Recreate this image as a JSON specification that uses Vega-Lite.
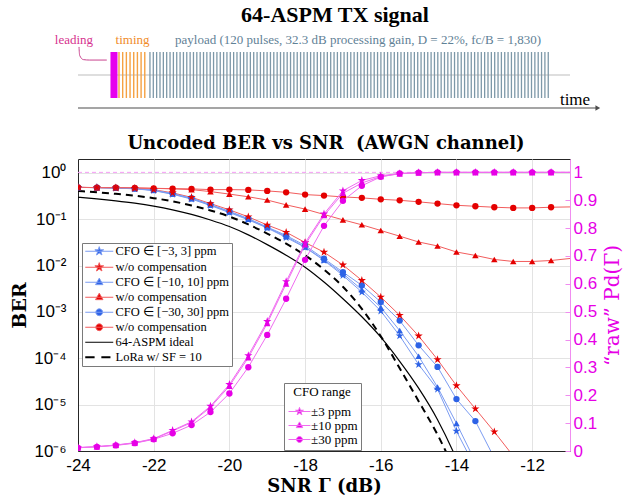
{
  "$schema": "https://vega.github.io/schema/vega-lite/v6.json",
  "autosize": {"type": "none"},
  "padding": {"left": 78, "top": 30, "right": 557, "bottom": 468},
  "background": "white",
  "bounds": "flush",
  "spacing": 47,
  "config": {
    "font": "Liberation Sans",
    "view": {"stroke": null},
    "axis": {"labelFont": "Liberation Sans", "labelFontSize": 17, "labelColor": "#000000", "titleFont": "DejaVu Serif", "titleFontSize": 19, "titleFontWeight": "bold", "titleColor": "#000000", "domainColor": "#262626", "gridColor": "#e3e3e3", "ticks": false, "labelOverlap": false, "labelFlush": false},
    "title": {"font": "DejaVu Serif", "fontWeight": "bold", "color": "#000000", "anchor": "middle"},
    "legend": {"labelFont": "Liberation Serif", "labelColor": "#000000", "strokeColor": "#7a7a7a", "fillColor": "#ffffff", "cornerRadius": 0, "titleFont": "Liberation Serif", "titleFontWeight": "normal", "titleColor": "#000000"}
  },
  "datasets": {
    "timing": [{"t": 12.25}, {"t": 13.35}, {"t": 14.45}, {"t": 15.55}, {"t": 16.65}, {"t": 17.75}, {"t": 18.85}, {"t": 19.95}],
    "payload": [
      {"t": 21.5}, {"t": 22.5}, {"t": 23.5}, {"t": 24.5}, {"t": 25.5}, {"t": 26.5}, {"t": 27.5}, {"t": 28.5}, {"t": 29.5}, {"t": 30.5},
      {"t": 31.5}, {"t": 32.5}, {"t": 33.5}, {"t": 34.5}, {"t": 35.5}, {"t": 36.5}, {"t": 37.5}, {"t": 38.5}, {"t": 39.5}, {"t": 40.5},
      {"t": 41.5}, {"t": 42.5}, {"t": 43.5}, {"t": 44.5}, {"t": 45.5}, {"t": 46.5}, {"t": 47.5}, {"t": 48.5}, {"t": 49.5}, {"t": 50.5},
      {"t": 51.5}, {"t": 52.5}, {"t": 53.5}, {"t": 54.5}, {"t": 55.5}, {"t": 56.5}, {"t": 57.5}, {"t": 58.5}, {"t": 59.5}, {"t": 60.5},
      {"t": 61.5}, {"t": 62.5}, {"t": 63.5}, {"t": 64.5}, {"t": 65.5}, {"t": 66.5}, {"t": 67.5}, {"t": 68.5}, {"t": 69.5}, {"t": 70.5},
      {"t": 71.5}, {"t": 72.5}, {"t": 73.5}, {"t": 74.5}, {"t": 75.5}, {"t": 76.5}, {"t": 77.5}, {"t": 78.5}, {"t": 79.5}, {"t": 80.5},
      {"t": 81.5}, {"t": 82.5}, {"t": 83.5}, {"t": 84.5}, {"t": 85.5}, {"t": 86.5}, {"t": 87.5}, {"t": 88.5}, {"t": 89.5}, {"t": 90.5},
      {"t": 91.5}, {"t": 92.5}, {"t": 93.5}, {"t": 94.5}, {"t": 95.5}, {"t": 96.5}, {"t": 97.5}, {"t": 98.5}, {"t": 99.5}, {"t": 100.5},
      {"t": 101.5}, {"t": 102.5}, {"t": 103.5}, {"t": 104.5}, {"t": 105.5}, {"t": 106.5}, {"t": 107.5}, {"t": 108.5}, {"t": 109.5}, {"t": 110.5},
      {"t": 111.5}, {"t": 112.5}, {"t": 113.5}, {"t": 114.5}, {"t": 115.5}, {"t": 116.5}, {"t": 117.5}, {"t": 118.5}, {"t": 119.5}, {"t": 120.5},
      {"t": 121.5}, {"t": 122.5}, {"t": 123.5}, {"t": 124.5}, {"t": 125.5}, {"t": 126.5}, {"t": 127.5}, {"t": 128.5}, {"t": 129.5}, {"t": 130.5},
      {"t": 131.5}, {"t": 132.5}, {"t": 133.5}, {"t": 134.5}, {"t": 135.5}, {"t": 136.5}, {"t": 137.5}, {"t": 138.5}, {"t": 139.5}, {"t": 140.5}
    ],
    "ber": [
      {"series": "s3c", "snr": -24, "ber": 0.487}, {"series": "s3c", "snr": -23.5, "ber": 0.483}, {"series": "s3c", "snr": -23, "ber": 0.471}, {"series": "s3c", "snr": -22.5, "ber": 0.455},
      {"series": "s3c", "snr": -22, "ber": 0.416}, {"series": "s3c", "snr": -21.5, "ber": 0.346}, {"series": "s3c", "snr": -21, "ber": 0.273}, {"series": "s3c", "snr": -20.5, "ber": 0.198},
      {"series": "s3c", "snr": -20, "ber": 0.1397}, {"series": "s3c", "snr": -19.5, "ber": 0.0973}, {"series": "s3c", "snr": -19, "ber": 0.0648}, {"series": "s3c", "snr": -18.5, "ber": 0.0405},
      {"series": "s3c", "snr": -18, "ber": 0.0247}, {"series": "s3c", "snr": -17.5, "ber": 0.01294}, {"series": "s3c", "snr": -17, "ber": 0.00615}, {"series": "s3c", "snr": -16.5, "ber": 0.00269},
      {"series": "s3c", "snr": -16, "ber": 0.00105}, {"series": "s3c", "snr": -15.5, "ber": 0.000307}, {"series": "s3c", "snr": -15, "ber": 0.0000736}, {"series": "s3c", "snr": -14.5, "ber": 0.0000216},
      {"series": "s3c", "snr": -14, "ber": 0.00000269}, {"series": "s3c", "snr": -13.5, "ber": 0.000000435},

      {"series": "s3u", "snr": -24, "ber": 0.487}, {"series": "s3u", "snr": -23.5, "ber": 0.483}, {"series": "s3u", "snr": -23, "ber": 0.475}, {"series": "s3u", "snr": -22.5, "ber": 0.464},
      {"series": "s3u", "snr": -22, "ber": 0.437}, {"series": "s3u", "snr": -21.5, "ber": 0.371}, {"series": "s3u", "snr": -21, "ber": 0.298}, {"series": "s3u", "snr": -20.5, "ber": 0.218},
      {"series": "s3u", "snr": -20, "ber": 0.160}, {"series": "s3u", "snr": -19.5, "ber": 0.113}, {"series": "s3u", "snr": -19, "ber": 0.0752}, {"series": "s3u", "snr": -18.5, "ber": 0.0526},
      {"series": "s3u", "snr": -18, "ber": 0.0316}, {"series": "s3u", "snr": -17.5, "ber": 0.0195}, {"series": "s3u", "snr": -17, "ber": 0.01035}, {"series": "s3u", "snr": -16.5, "ber": 0.0048},
      {"series": "s3u", "snr": -16, "ber": 0.0021}, {"series": "s3u", "snr": -15.5, "ber": 0.000847}, {"series": "s3u", "snr": -15, "ber": 0.000304}, {"series": "s3u", "snr": -14.5, "ber": 0.0000942},
      {"series": "s3u", "snr": -14, "ber": 0.0000257}, {"series": "s3u", "snr": -13.5, "ber": 0.00000814}, {"series": "s3u", "snr": -13, "ber": 0.0000026}, {"series": "s3u", "snr": -12.5, "ber": 0.00000078},

      {"series": "t10c", "snr": -24, "ber": 0.487}, {"series": "t10c", "snr": -23.5, "ber": 0.483}, {"series": "t10c", "snr": -23, "ber": 0.475}, {"series": "t10c", "snr": -22.5, "ber": 0.459},
      {"series": "t10c", "snr": -22, "ber": 0.422}, {"series": "t10c", "snr": -21.5, "ber": 0.353}, {"series": "t10c", "snr": -21, "ber": 0.280}, {"series": "t10c", "snr": -20.5, "ber": 0.203},
      {"series": "t10c", "snr": -20, "ber": 0.1447}, {"series": "t10c", "snr": -19.5, "ber": 0.1002}, {"series": "t10c", "snr": -19, "ber": 0.0664}, {"series": "t10c", "snr": -18.5, "ber": 0.0425},
      {"series": "t10c", "snr": -18, "ber": 0.0253}, {"series": "t10c", "snr": -17.5, "ber": 0.01327}, {"series": "t10c", "snr": -17, "ber": 0.0067}, {"series": "t10c", "snr": -16.5, "ber": 0.00303},
      {"series": "t10c", "snr": -16, "ber": 0.00126}, {"series": "t10c", "snr": -15.5, "ber": 0.000397}, {"series": "t10c", "snr": -15, "ber": 0.000111}, {"series": "t10c", "snr": -14.5, "ber": 0.0000239},
      {"series": "t10c", "snr": -14, "ber": 0.00000395}, {"series": "t10c", "snr": -13.5, "ber": 0.000000585},

      {"series": "t10u", "snr": -24, "ber": 0.490}, {"series": "t10u", "snr": -23.5, "ber": 0.483}, {"series": "t10u", "snr": -23, "ber": 0.483}, {"series": "t10u", "snr": -22.5, "ber": 0.475},
      {"series": "t10u", "snr": -22, "ber": 0.466}, {"series": "t10u", "snr": -21.5, "ber": 0.453}, {"series": "t10u", "snr": -21, "ber": 0.437}, {"series": "t10u", "snr": -20.5, "ber": 0.396},
      {"series": "t10u", "snr": -20, "ber": 0.350}, {"series": "t10u", "snr": -19.5, "ber": 0.306}, {"series": "t10u", "snr": -19, "ber": 0.260}, {"series": "t10u", "snr": -18.5, "ber": 0.205},
      {"series": "t10u", "snr": -18, "ber": 0.166}, {"series": "t10u", "snr": -17.5, "ber": 0.127}, {"series": "t10u", "snr": -17, "ber": 0.0973}, {"series": "t10u", "snr": -16.5, "ber": 0.0760},
      {"series": "t10u", "snr": -16, "ber": 0.0573}, {"series": "t10u", "snr": -15.5, "ber": 0.0432}, {"series": "t10u", "snr": -15, "ber": 0.0324}, {"series": "t10u", "snr": -14.5, "ber": 0.0266},
      {"series": "t10u", "snr": -14, "ber": 0.0197}, {"series": "t10u", "snr": -13.5, "ber": 0.0166}, {"series": "t10u", "snr": -13, "ber": 0.0136}, {"series": "t10u", "snr": -12.5, "ber": 0.0123},
      {"series": "t10u", "snr": -12, "ber": 0.0123}, {"series": "t10u", "snr": -11.5, "ber": 0.0129}, {"series": "t10u", "snr": -10.5, "ber": 0.0158},

      {"series": "c30c", "snr": -24, "ber": 0.487}, {"series": "c30c", "snr": -23.5, "ber": 0.483}, {"series": "c30c", "snr": -23, "ber": 0.475}, {"series": "c30c", "snr": -22.5, "ber": 0.459},
      {"series": "c30c", "snr": -22, "ber": 0.426}, {"series": "c30c", "snr": -21.5, "ber": 0.358}, {"series": "c30c", "snr": -21, "ber": 0.287}, {"series": "c30c", "snr": -20.5, "ber": 0.208},
      {"series": "c30c", "snr": -20, "ber": 0.149}, {"series": "c30c", "snr": -19.5, "ber": 0.1038}, {"series": "c30c", "snr": -19, "ber": 0.0681}, {"series": "c30c", "snr": -18.5, "ber": 0.0447},
      {"series": "c30c", "snr": -18, "ber": 0.0272}, {"series": "c30c", "snr": -17.5, "ber": 0.0141}, {"series": "c30c", "snr": -17, "ber": 0.00725}, {"series": "c30c", "snr": -16.5, "ber": 0.00375},
      {"series": "c30c", "snr": -16, "ber": 0.00164}, {"series": "c30c", "snr": -15.5, "ber": 0.000651}, {"series": "c30c", "snr": -15, "ber": 0.000191}, {"series": "c30c", "snr": -14.5, "ber": 0.0000653},
      {"series": "c30c", "snr": -14, "ber": 0.0000132}, {"series": "c30c", "snr": -13.5, "ber": 0.00000442}, {"series": "c30c", "snr": -13, "ber": 0.000000707},

      {"series": "c30u", "snr": -24, "ber": 0.490}, {"series": "c30u", "snr": -23.5, "ber": 0.483}, {"series": "c30u", "snr": -23, "ber": 0.483}, {"series": "c30u", "snr": -22.5, "ber": 0.475},
      {"series": "c30u", "snr": -22, "ber": 0.466}, {"series": "c30u", "snr": -21.5, "ber": 0.459}, {"series": "c30u", "snr": -21, "ber": 0.453}, {"series": "c30u", "snr": -20.5, "ber": 0.437},
      {"series": "c30u", "snr": -20, "ber": 0.437}, {"series": "c30u", "snr": -19.5, "ber": 0.431}, {"series": "c30u", "snr": -19, "ber": 0.410}, {"series": "c30u", "snr": -18.5, "ber": 0.382},
      {"series": "c30u", "snr": -18, "ber": 0.341}, {"series": "c30u", "snr": -17.5, "ber": 0.325}, {"series": "c30u", "snr": -17, "ber": 0.304}, {"series": "c30u", "snr": -16.5, "ber": 0.290},
      {"series": "c30u", "snr": -16, "ber": 0.270}, {"series": "c30u", "snr": -15.5, "ber": 0.257}, {"series": "c30u", "snr": -15, "ber": 0.238}, {"series": "c30u", "snr": -14.5, "ber": 0.218},
      {"series": "c30u", "snr": -14, "ber": 0.2005}, {"series": "c30u", "snr": -13.5, "ber": 0.191}, {"series": "c30u", "snr": -13, "ber": 0.182}, {"series": "c30u", "snr": -12.5, "ber": 0.176},
      {"series": "c30u", "snr": -12, "ber": 0.176}, {"series": "c30u", "snr": -11.5, "ber": 0.182}, {"series": "c30u", "snr": -10.5, "ber": 0.188}
    ],
    "ideal": [
      {"snr": -24, "ber": 0.2985}, {"snr": -23.5, "ber": 0.2754}, {"snr": -23, "ber": 0.25}, {"snr": -22.5, "ber": 0.2228}, {"snr": -22, "ber": 0.1928},
      {"snr": -21.5, "ber": 0.1603}, {"snr": -21, "ber": 0.1274}, {"snr": -20.5, "ber": 0.0966}, {"snr": -20, "ber": 0.0698}, {"snr": -19.5, "ber": 0.0461},
      {"snr": -19, "ber": 0.0284}, {"snr": -18.5, "ber": 0.01675}, {"snr": -18, "ber": 0.00925}, {"snr": -17.5, "ber": 0.00443}, {"snr": -17, "ber": 0.00193},
      {"snr": -16.5, "ber": 0.000787}, {"snr": -16, "ber": 0.000286}, {"snr": -15.5, "ber": 0.0000863}, {"snr": -15, "ber": 0.0000227}, {"snr": -14.5, "ber": 0.00000474},
      {"snr": -14, "ber": 0.00000067}, {"snr": -13.5, "ber": 0.000000063}
    ],
    "lora": [
      {"snr": -24, "ber": 0.410}, {"snr": -23.5, "ber": 0.382}, {"snr": -23, "ber": 0.354}, {"snr": -22.5, "ber": 0.323}, {"snr": -22, "ber": 0.286},
      {"snr": -21.5, "ber": 0.244}, {"snr": -21, "ber": 0.199}, {"snr": -20.5, "ber": 0.155}, {"snr": -20, "ber": 0.1146}, {"snr": -19.5, "ber": 0.0776},
      {"snr": -19, "ber": 0.0491}, {"snr": -18.5, "ber": 0.0297}, {"snr": -18, "ber": 0.01675}, {"snr": -17.5, "ber": 0.00822}, {"snr": -17, "ber": 0.0035},
      {"snr": -16.5, "ber": 0.00117}, {"snr": -16, "ber": 0.0003}, {"snr": -15.5, "ber": 0.000061}, {"snr": -15, "ber": 0.0000119}, {"snr": -14.5, "ber": 0.00000225},
      {"snr": -14, "ber": 0.000000318}
    ],
    "pd": [
      {"cfo": "p3", "snr": -24, "pd": 0.0122}, {"cfo": "p3", "snr": -23.5, "pd": 0.0157}, {"cfo": "p3", "snr": -23, "pd": 0.0215}, {"cfo": "p3", "snr": -22.5, "pd": 0.030},
      {"cfo": "p3", "snr": -22, "pd": 0.0444}, {"cfo": "p3", "snr": -21.5, "pd": 0.0741}, {"cfo": "p3", "snr": -21, "pd": 0.105}, {"cfo": "p3", "snr": -20.5, "pd": 0.161},
      {"cfo": "p3", "snr": -20, "pd": 0.239}, {"cfo": "p3", "snr": -19.5, "pd": 0.3425}, {"cfo": "p3", "snr": -19, "pd": 0.465}, {"cfo": "p3", "snr": -18.5, "pd": 0.608},
      {"cfo": "p3", "snr": -18, "pd": 0.747}, {"cfo": "p3", "snr": -17.5, "pd": 0.851}, {"cfo": "p3", "snr": -17, "pd": 0.934}, {"cfo": "p3", "snr": -16.5, "pd": 0.971},
      {"cfo": "p3", "snr": -16, "pd": 0.988}, {"cfo": "p3", "snr": -15.5, "pd": 0.996}, {"cfo": "p3", "snr": -15, "pd": 0.999}, {"cfo": "p3", "snr": -14.5, "pd": 1},
      {"cfo": "p3", "snr": -14, "pd": 1}, {"cfo": "p3", "snr": -13.5, "pd": 1}, {"cfo": "p3", "snr": -13, "pd": 1}, {"cfo": "p3", "snr": -12.5, "pd": 1},
      {"cfo": "p3", "snr": -12, "pd": 1}, {"cfo": "p3", "snr": -11.5, "pd": 1}, {"cfo": "p3", "snr": -10.5, "pd": 1},

      {"cfo": "p10", "snr": -24, "pd": 0.0122}, {"cfo": "p10", "snr": -23.5, "pd": 0.0155}, {"cfo": "p10", "snr": -23, "pd": 0.021}, {"cfo": "p10", "snr": -22.5, "pd": 0.029},
      {"cfo": "p10", "snr": -22, "pd": 0.043}, {"cfo": "p10", "snr": -21.5, "pd": 0.072}, {"cfo": "p10", "snr": -21, "pd": 0.102}, {"cfo": "p10", "snr": -20.5, "pd": 0.157},
      {"cfo": "p10", "snr": -20, "pd": 0.233}, {"cfo": "p10", "snr": -19.5, "pd": 0.335}, {"cfo": "p10", "snr": -19, "pd": 0.458}, {"cfo": "p10", "snr": -18.5, "pd": 0.600},
      {"cfo": "p10", "snr": -18, "pd": 0.740}, {"cfo": "p10", "snr": -17.5, "pd": 0.845}, {"cfo": "p10", "snr": -17, "pd": 0.925}, {"cfo": "p10", "snr": -16.5, "pd": 0.962},
      {"cfo": "p10", "snr": -16, "pd": 0.985}, {"cfo": "p10", "snr": -15.5, "pd": 0.995}, {"cfo": "p10", "snr": -15, "pd": 0.999}, {"cfo": "p10", "snr": -14.5, "pd": 1},
      {"cfo": "p10", "snr": -14, "pd": 1}, {"cfo": "p10", "snr": -13.5, "pd": 1}, {"cfo": "p10", "snr": -13, "pd": 1}, {"cfo": "p10", "snr": -12.5, "pd": 1},
      {"cfo": "p10", "snr": -12, "pd": 1}, {"cfo": "p10", "snr": -11.5, "pd": 1}, {"cfo": "p10", "snr": -10.5, "pd": 1},

      {"cfo": "p30", "snr": -24, "pd": 0.0115}, {"cfo": "p30", "snr": -23.5, "pd": 0.015}, {"cfo": "p30", "snr": -23, "pd": 0.020}, {"cfo": "p30", "snr": -22.5, "pd": 0.028},
      {"cfo": "p30", "snr": -22, "pd": 0.042}, {"cfo": "p30", "snr": -21.5, "pd": 0.0634}, {"cfo": "p30", "snr": -21, "pd": 0.093}, {"cfo": "p30", "snr": -20.5, "pd": 0.1396},
      {"cfo": "p30", "snr": -20, "pd": 0.2065}, {"cfo": "p30", "snr": -19.5, "pd": 0.3006}, {"cfo": "p30", "snr": -19, "pd": 0.4166}, {"cfo": "p30", "snr": -18.5, "pd": 0.5465},
      {"cfo": "p30", "snr": -18, "pd": 0.686}, {"cfo": "p30", "snr": -17.5, "pd": 0.808}, {"cfo": "p30", "snr": -17, "pd": 0.898}, {"cfo": "p30", "snr": -16.5, "pd": 0.952},
      {"cfo": "p30", "snr": -16, "pd": 0.984}, {"cfo": "p30", "snr": -15.5, "pd": 0.996}, {"cfo": "p30", "snr": -15, "pd": 0.999}, {"cfo": "p30", "snr": -14.5, "pd": 1},
      {"cfo": "p30", "snr": -14, "pd": 1}, {"cfo": "p30", "snr": -13.5, "pd": 1}, {"cfo": "p30", "snr": -13, "pd": 1}, {"cfo": "p30", "snr": -12.5, "pd": 1},
      {"cfo": "p30", "snr": -12, "pd": 1}, {"cfo": "p30", "snr": -11.5, "pd": 1}, {"cfo": "p30", "snr": -10.5, "pd": 1}
    ]
  },
  "vconcat": [
    {
      "width": 492,
      "height": 82,
      "view": {"stroke": null},
      "title": {"text": "64-ASPM TX signal", "font": "Liberation Serif", "fontSize": 22, "offset": 3, "dx": 11},
      "layer": [
        {
          "data": {"values": [{"t0": 0, "t1": 147, "level": 0}]},
          "mark": {"type": "rule", "color": "#bdbdbd", "strokeWidth": 1},
          "encoding": {
            "x": {"field": "t0", "type": "quantitative", "scale": {"domain": [0, 147], "nice": false, "zero": false}, "axis": null},
            "x2": {"field": "t1"},
            "y": {"field": "level", "type": "quantitative", "scale": {"domain": [-1.609, 1.957], "nice": false, "zero": false}, "axis": null}
          }
        },
        {
          "data": {"values": [{"t0": 9.7, "t1": 11.8}]},
          "mark": {"type": "rect", "color": "#e600ee"},
          "encoding": {
            "x": {"field": "t0", "type": "quantitative"},
            "x2": {"field": "t1"},
            "y": {"datum": -1},
            "y2": {"datum": 1}
          }
        },
        {
          "data": {"name": "timing"},
          "mark": {"type": "rule", "color": "#f5a142", "strokeWidth": 1.4},
          "encoding": {"x": {"field": "t", "type": "quantitative"}, "y": {"datum": -1}, "y2": {"datum": 1}}
        },
        {
          "data": {"name": "payload"},
          "mark": {"type": "rule", "color": "#7d98a8", "strokeWidth": 1.3},
          "encoding": {"x": {"field": "t", "type": "quantitative"}, "y": {"datum": -1}, "y2": {"datum": 1}}
        },
        {
          "data": {"values": [{"t0": 0, "t1": 155, "level": -1.435}]},
          "mark": {"type": "rule", "color": "#4d4d4d", "strokeWidth": 1.2},
          "encoding": {"x": {"field": "t0", "type": "quantitative"}, "x2": {"field": "t1"}, "y": {"field": "level", "type": "quantitative"}}
        },
        {
          "data": {"values": [{"t": 155.3, "level": -1.435}]},
          "mark": {"type": "point", "shape": "triangle-right", "filled": true, "opacity": 1, "size": 30, "color": "#4d4d4d"},
          "encoding": {"x": {"field": "t", "type": "quantitative"}, "y": {"field": "level", "type": "quantitative"}}
        },
        {
          "data": {"values": [{"t": 0.3, "v": 1.22}, {"t": 0.5, "v": 0.85}, {"t": 1.6, "v": 0.67}, {"t": 3.5, "v": 0.65}, {"t": 8.6, "v": 0.65}]},
          "mark": {"type": "line", "color": "#c9448f", "strokeWidth": 1, "interpolate": "monotone"},
          "encoding": {"x": {"field": "t", "type": "quantitative"}, "y": {"field": "v", "type": "quantitative"}}
        },
        {
          "data": {"values": [{"t": -1.2, "v": 1.52, "label": "leading"}]},
          "mark": {"type": "text", "font": "Liberation Serif", "fontSize": 13, "color": "#d6338f", "align": "center", "baseline": "middle"},
          "encoding": {"x": {"field": "t", "type": "quantitative"}, "y": {"field": "v", "type": "quantitative"}, "text": {"field": "label"}}
        },
        {
          "data": {"values": [{"t": 16.3, "v": 1.52, "label": "timing"}]},
          "mark": {"type": "text", "font": "Liberation Serif", "fontSize": 13, "color": "#f08c2a", "align": "center", "baseline": "middle"},
          "encoding": {"x": {"field": "t", "type": "quantitative"}, "y": {"field": "v", "type": "quantitative"}, "text": {"field": "label"}}
        },
        {
          "data": {"values": [{"t": 29.0, "v": 1.52, "label": "payload  (120 pulses, 32.3 dB processing gain, D = 22%, fc/B = 1,830)"}]},
          "mark": {"type": "text", "font": "Liberation Serif", "fontSize": 13, "color": "#5f8196", "align": "left", "baseline": "middle"},
          "encoding": {"x": {"field": "t", "type": "quantitative"}, "y": {"field": "v", "type": "quantitative"}, "text": {"field": "label"}}
        },
        {
          "data": {"values": [{"t": 148.5, "v": -1.07, "label": "time"}]},
          "mark": {"type": "text", "font": "Liberation Serif", "fontSize": 17, "color": "#000000", "align": "center", "baseline": "middle"},
          "encoding": {"x": {"field": "t", "type": "quantitative"}, "y": {"field": "v", "type": "quantitative"}, "text": {"field": "label"}}
        }
      ]
    },
    {
      "width": 492,
      "height": 292,
      "view": {"stroke": "#262626", "strokeWidth": 1},
      "title": {"text": "Uncoded BER vs SNR\u00a0\u00a0(AWGN channel)", "fontSize": 18, "offset": 6, "dx": 2},
      "resolve": {"scale": {"y": "independent", "color": "independent"}},
      "layer": [
        {
          "layer": [
            {
              "data": {"name": "ber"},
              "mark": {"type": "line", "strokeWidth": 1, "clip": true},
              "encoding": {
                "x": {"field": "snr", "type": "quantitative", "scale": {"domain": [-24, -11], "nice": false, "zero": false},
                      "axis": {"title": "SNR Γ (dB)", "titleFontSize": 18, "values": [-24, -22, -20, -18, -16, -14, -12], "tickCount": 14, "grid": true, "labelPadding": 6, "titlePadding": 4,
                               "labelFlush": false, "labelOverlap": false,
                               "labelExpr": "datum.value < 0 ? '-' + (-datum.value) : '' + datum.value"}},
                "y": {"field": "ber", "type": "quantitative", "scale": {"type": "log", "domain": [0.000001, 2], "nice": false},
                      "axis": {"title": "BER", "values": [0.000001, 0.00001, 0.0001, 0.001, 0.01, 0.1, 1], "tickCount": 10, "grid": true, "labelPadding": 12, "titlePadding": 4,
                               "labelFlush": false, "labelOverlap": false,
                               "labelExpr": "'10' + (datum.value >= 1 ? '⁰' : '⁻' + ['⁰','¹','²','³','⁴','⁵','⁶'][round(-log(datum.value) / LN10)])"}},
                "stroke": {"field": "series", "type": "nominal", "legend": null,
                           "scale": {"domain": ["s3c", "s3u", "t10c", "t10u", "c30c", "c30u"], "range": ["#7b9cf2", "#f25c5c", "#7b9cf2", "#f25c5c", "#7b9cf2", "#f25c5c"]}}
              }
            },
            {
              "data": {"name": "ideal"},
              "mark": {"type": "line", "color": "#000000", "strokeWidth": 1.2, "clip": true, "interpolate": "monotone"},
              "encoding": {
                "x": {"field": "snr", "type": "quantitative", "scale": {"domain": [-24, -11], "nice": false, "zero": false}},
                "y": {"field": "ber", "type": "quantitative", "scale": {"type": "log", "domain": [0.000001, 2], "nice": false}}
              }
            },
            {
              "data": {"name": "lora"},
              "mark": {"type": "line", "color": "#000000", "strokeWidth": 2, "strokeDash": [7, 5], "clip": true, "interpolate": "monotone"},
              "encoding": {
                "x": {"field": "snr", "type": "quantitative", "scale": {"domain": [-24, -11], "nice": false, "zero": false}},
                "y": {"field": "ber", "type": "quantitative", "scale": {"type": "log", "domain": [0.000001, 2], "nice": false}}
              }
            },
            {
              "data": {"name": "ber"},
              "transform": [{"filter": {"field": "series", "oneOf": ["c30c", "c30u"]}}],
              "mark": {"type": "point", "shape": "circle", "filled": true, "opacity": 1, "size": 40, "clip": true},
              "encoding": {
                "x": {"field": "snr", "type": "quantitative", "scale": {"domain": [-24, -11], "nice": false, "zero": false}},
                "y": {"field": "ber", "type": "quantitative", "scale": {"type": "log", "domain": [0.000001, 2], "nice": false}},
                "fill": {"field": "series", "type": "nominal", "legend": null,
                         "scale": {"domain": ["s3c", "s3u", "t10c", "t10u", "c30c", "c30u"], "range": ["#2d62e6", "#e40000", "#2d62e6", "#e40000", "#2d62e6", "#e40000"]}}
              }
            },
            {
              "data": {"name": "ber"},
              "transform": [{"filter": {"field": "series", "oneOf": ["t10c", "t10u"]}}],
              "mark": {"type": "point", "shape": "triangle-up", "filled": true, "opacity": 1, "size": 42, "clip": true},
              "encoding": {
                "x": {"field": "snr", "type": "quantitative", "scale": {"domain": [-24, -11], "nice": false, "zero": false}},
                "y": {"field": "ber", "type": "quantitative", "scale": {"type": "log", "domain": [0.000001, 2], "nice": false}},
                "fill": {"field": "series", "type": "nominal", "legend": null}
              }
            },
            {
              "data": {"name": "ber"},
              "transform": [{"filter": {"field": "series", "oneOf": ["s3c", "s3u"]}}],
              "mark": {"type": "point", "shape": "M0,-1L0.2245,-0.309L0.951,-0.309L0.363,0.118L0.588,0.809L0,0.382L-0.588,0.809L-0.363,0.118L-0.951,-0.309L-0.2245,-0.309Z", "filled": true, "opacity": 1, "size": 75, "clip": true},
              "encoding": {
                "x": {"field": "snr", "type": "quantitative", "scale": {"domain": [-24, -11], "nice": false, "zero": false}},
                "y": {"field": "ber", "type": "quantitative", "scale": {"type": "log", "domain": [0.000001, 2], "nice": false}},
                "fill": {"field": "series", "type": "nominal", "legend": null}
              }
            },
            {
              "data": {"values": [{"series": "s3c"}, {"series": "s3u"}, {"series": "t10c"}, {"series": "t10u"}, {"series": "c30c"}, {"series": "c30u"}, {"series": "ideal"}, {"series": "lora"}]},
              "mark": {"type": "point", "filled": true, "opacity": 0},
              "encoding": {
                "x": {"datum": -20, "type": "quantitative", "scale": {"domain": [-24, -11], "nice": false, "zero": false}},
                "y": {"datum": 0.1, "type": "quantitative", "scale": {"type": "log", "domain": [0.000001, 2], "nice": false}},
                "color": {
                  "field": "series", "type": "nominal",
                  "scale": {"domain": ["s3c", "s3u", "t10c", "t10u", "c30c", "c30u", "ideal", "lora"], "range": ["#2d62e6", "#e40000", "#2d62e6", "#e40000", "#2d62e6", "#e40000", "transparent", "transparent"]},
                  "legend": {
                    "orient": "none", "legendX": 4, "legendY": 84, "title": null,
                    "symbolSize": 100, "labelFontSize": 12.5, "labelOffset": 10, "symbolOffset": 9, "rowPadding": 2, "padding": 2,
                    "labelExpr": "datum.value == 's3c' ? 'CFO ∈ [−3, 3] ppm' : datum.value == 't10c' ? 'CFO ∈ [−10, 10] ppm' : datum.value == 'c30c' ? 'CFO ∈ [−30, 30] ppm' : datum.value == 'ideal' ? '64-ASPM ideal' : datum.value == 'lora' ? 'LoRa w/ SF = 10' : 'w/o compensation'",
                    "encode": {"symbols": {"update": {
                      "shape": {"signal": "datum.value == 's3c' ? 'M-2.8,0L2.8,0M0,-0.92L0.207,-0.284L0.875,-0.284L0.334,0.109L0.541,0.744L0,0.351L-0.541,0.744L-0.334,0.109L-0.875,-0.284L-0.207,-0.284Z' : datum.value == 's3u' ? 'M-2.8,0L2.8,0M0,-0.92L0.207,-0.284L0.875,-0.284L0.334,0.109L0.541,0.744L0,0.351L-0.541,0.744L-0.334,0.109L-0.875,-0.284L-0.207,-0.284Z' : datum.value == 't10c' ? 'M-2.8,0L2.8,0M0,-0.82L0.74,0.48L-0.74,0.48Z' : datum.value == 't10u' ? 'M-2.8,0L2.8,0M0,-0.82L0.74,0.48L-0.74,0.48Z' : datum.value == 'c30c' ? 'M-2.8,0L2.8,0M-0.68,0A0.68,0.68,0,1,0,0.68,0A0.68,0.68,0,1,0,-0.68,0Z' : datum.value == 'c30u' ? 'M-2.8,0L2.8,0M-0.68,0A0.68,0.68,0,1,0,0.68,0A0.68,0.68,0,1,0,-0.68,0Z' : datum.value == 'lora' ? 'M-2.8,0L-0.93,0M0.42,0L2.24,0' : 'M-2.8,0L2.8,0'"},
                      "stroke": {"signal": "datum.value == 'ideal' ? '#000000' : datum.value == 'lora' ? '#000000' : datum.value == 's3c' ? '#7b9cf2' : datum.value == 't10c' ? '#7b9cf2' : datum.value == 'c30c' ? '#7b9cf2' : '#f25c5c'"},
                      "strokeWidth": {"signal": "datum.value == 'lora' ? 2 : 1"},
                      "opacity": {"value": 1}
                    }}}
                  }
                }
              }
            }
          ]
        },
        {
          "layer": [
            {
              "data": {"values": [{"a": -24, "b": -11, "v": 1}]},
              "mark": {"type": "rule", "color": "#f59cf5", "strokeDash": [4, 3], "strokeWidth": 1},
              "encoding": {
                "x": {"field": "a", "type": "quantitative", "scale": {"domain": [-24, -11], "nice": false, "zero": false}},
                "x2": {"field": "b"},
                "y": {"field": "v", "type": "quantitative", "scale": {"domain": [0, 1.048], "nice": false, "zero": true},
                      "axis": {"orient": "right", "title": "“raw” Pd(Γ)", "values": [0, 0.1, 0.2, 0.3, 0.4, 0.5, 0.6, 0.7, 0.8, 0.9, 1], "tickCount": 12, "grid": false,
                               "labelOverlap": false, "labelFlush": false, "labelBound": false,
                               "labelExpr": "datum.value == 0 ? '0' : datum.value == 1 ? '1' : format(datum.value, '.1f')",
                               "labelColor": "#e600e6", "titleColor": "#e600e6", "titleFont": "DejaVu Serif", "titleFontWeight": "normal", "titleFontSize": 20,
                               "titleAngle": 270, "titleBaseline": "top", "domainColor": "#f08cf0", "ticks": true, "tickColor": "#f08cf0", "tickSize": -5, "labelPadding": 8, "titlePadding": 6}}
              }
            },
            {
              "data": {"name": "pd"},
              "mark": {"type": "line", "color": "#f06cf0", "strokeWidth": 1, "clip": true},
              "encoding": {
                "x": {"field": "snr", "type": "quantitative", "scale": {"domain": [-24, -11], "nice": false, "zero": false}},
                "y": {"field": "pd", "type": "quantitative", "scale": {"domain": [0, 1.048], "nice": false, "zero": true}},
                "detail": {"field": "cfo"}
              }
            },
            {
              "data": {"name": "pd"},
              "transform": [{"filter": {"field": "cfo", "equal": "p30"}}],
              "mark": {"type": "point", "shape": "circle", "filled": true, "opacity": 1, "size": 40, "color": "#e600e6", "clip": true},
              "encoding": {
                "x": {"field": "snr", "type": "quantitative", "scale": {"domain": [-24, -11], "nice": false, "zero": false}},
                "y": {"field": "pd", "type": "quantitative", "scale": {"domain": [0, 1.048], "nice": false, "zero": true}}
              }
            },
            {
              "data": {"name": "pd"},
              "transform": [{"filter": {"field": "cfo", "equal": "p10"}}],
              "mark": {"type": "point", "shape": "triangle-up", "filled": true, "opacity": 1, "size": 42, "color": "#e600e6", "clip": true},
              "encoding": {
                "x": {"field": "snr", "type": "quantitative", "scale": {"domain": [-24, -11], "nice": false, "zero": false}},
                "y": {"field": "pd", "type": "quantitative", "scale": {"domain": [0, 1.048], "nice": false, "zero": true}}
              }
            },
            {
              "data": {"name": "pd"},
              "transform": [{"filter": {"field": "cfo", "equal": "p3"}}],
              "mark": {"type": "point", "shape": "M0,-1L0.2245,-0.309L0.951,-0.309L0.363,0.118L0.588,0.809L0,0.382L-0.588,0.809L-0.363,0.118L-0.951,-0.309L-0.2245,-0.309Z", "filled": true, "opacity": 1, "size": 75, "color": "#e600e6", "clip": true},
              "encoding": {
                "x": {"field": "snr", "type": "quantitative", "scale": {"domain": [-24, -11], "nice": false, "zero": false}},
                "y": {"field": "pd", "type": "quantitative", "scale": {"domain": [0, 1.048], "nice": false, "zero": true}}
              }
            },
            {
              "data": {"values": [{"cfo": "p3"}, {"cfo": "p10"}, {"cfo": "p30"}]},
              "mark": {"type": "point", "filled": true, "opacity": 0},
              "encoding": {
                "x": {"datum": -20, "type": "quantitative", "scale": {"domain": [-24, -11], "nice": false, "zero": false}},
                "y": {"datum": 0.5, "type": "quantitative", "scale": {"domain": [0, 1.048], "nice": false, "zero": true}},
                "color": {
                  "field": "cfo", "type": "nominal",
                  "scale": {"domain": ["p3", "p10", "p30"], "range": ["#e600e6", "#e600e6", "#e600e6"]},
                  "legend": {
                    "orient": "none", "legendX": 206, "legendY": 224, "title": "CFO range", "titleFontSize": 13, "titleAnchor": "middle", "titlePadding": 6,
                    "symbolSize": 100, "labelFontSize": 13, "labelOffset": 5, "symbolOffset": 6, "rowPadding": 0, "padding": 3,
                    "labelExpr": "datum.value == 'p3' ? '±3 ppm' : datum.value == 'p10' ? '±10 ppm' : '±30 ppm'",
                    "encode": {"symbols": {"update": {
                      "shape": {"signal": "datum.value == 'p3' ? 'M-2.2,0L2.2,0M0,-0.82L0.184,-0.253L0.78,-0.253L0.297,0.097L0.482,0.663L0,0.313L-0.482,0.663L-0.297,0.097L-0.78,-0.253L-0.184,-0.253Z' : datum.value == 'p10' ? 'M-2.2,0L2.2,0M0,-0.72L0.64,0.42L-0.64,0.42Z' : 'M-2.2,0L2.2,0M-0.6,0A0.6,0.6,0,1,0,0.6,0A0.6,0.6,0,1,0,-0.6,0Z'"},
                      "fill": {"value": "#e600e6"},
                      "stroke": {"value": "#f06cf0"},
                      "strokeWidth": {"value": 1},
                      "opacity": {"value": 1}
                    }}}
                  }
                }
              }
            }
          ]
        }
      ]
    }
  ]
}
